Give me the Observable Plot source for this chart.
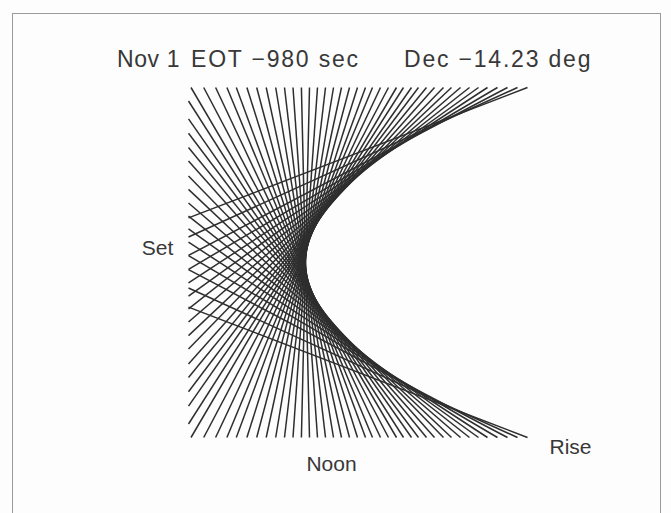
<!DOCTYPE html>
<html><head><meta charset="utf-8">
<script src="https://cdn.jsdelivr.net/npm/d3@7"></script>
<script src="https://cdn.jsdelivr.net/npm/@observablehq/plot@0.6"></script>
<style>
html,body{margin:0;padding:0;background:#fdfdfd;overflow:hidden;}
#page{position:relative;width:671px;height:513px;font-family:"Liberation Sans",Arial,sans-serif;color:#383838;}
#frame{position:absolute;left:12px;top:13px;width:647px;height:560px;border:1px solid #9a9a9a;border-bottom:none;}
#title span{position:absolute;top:45px;font-size:23px;letter-spacing:1.8px;white-space:pre;line-height:28px;}
#title span:first-child{letter-spacing:0.6px;}
#chart{position:absolute;left:0;top:80px;}
</style></head><body>
<div id="page"><div id="frame"></div><div id="title"></div><div id="chart"></div></div>
<script>
// Title pieces
const titleParts = ["Nov 1", "EOT \u2212980 sec", "Dec \u221214.23 deg"];
const titleLeft = [117, 191, 404];

// Lines tangent to the upper half of the curve: top-edge end (X, Y=175)
// and far end on the bottom edge or the left edge (X=-117).
const upperTopX = [4,12,20,28,36,44,52,60,67,75,83,91,98,106,113,121,129,138,146,155,164,173,182,192,202,212,222];
const upperFarX = [-4.1,-12.5,-21,-29.8,-39.3,-48.8,-58.6,-69.2,-78.6,-89.9,-101.8,-114.5,
  -117,-117,-117,-117,-117,-117,-117,-117,-117,-117,-117,-117,-117,-117,-117];
const upperFarY = [-175,-175,-175,-175,-175,-175,-175,-175,-175,-175,-175,-175,
  -161.5,-143.6,-129.2,-114.9,-101.4,-86.5,-73.1,-59.5,-46.3,-33.6,-20.4,-6.8,7.1,25.5,44.6];

// Lines tangent to the lower half of the curve: bottom-edge end (X, Y=-175)
// and far end on the top edge or the left edge.
const lowerBottomX = [4,12,20,28,36,44,52,60,67,75,83,91,98,106,113,121,129,138,146,155,164,173,182,192,202,212,222];
const lowerFarX = [-4.1,-12.5,-21,-29.8,-39.3,-48.8,-58.6,-69.2,-78.6,-89.9,-101.8,-114.5,
  -117,-117,-117,-117,-117,-117,-117,-117,-117,-117,-117,-117,-117,-117,-117];
const lowerFarY = [175,175,175,175,175,175,175,175,175,175,175,175,
  161.5,143.6,129.2,114.9,101.4,86.5,73.1,59.5,46.3,33.6,20.4,6.8,-7.1,-25.5,-44.6];

const topEdgeY = 175, bottomEdgeY = -175;

// Direction labels
const labelText = ["Set","Noon","Rise"];
const labelX = [-148,26,265];
const labelY = [14,-202,-185];

const lines = [];
upperTopX.forEach((x,i)=>lines.push({x1:upperFarX[i],y1:upperFarY[i],x2:x,y2:topEdgeY}));
lowerBottomX.forEach((x,i)=>lines.push({x1:lowerFarX[i],y1:lowerFarY[i],x2:x,y2:bottomEdgeY}));
const labels = labelText.map((t,i)=>({text:t,x:labelX[i],y:labelY[i]}));

const titleDiv = document.getElementById("title");
titleParts.forEach((t,i)=>{
  const s = document.createElement("span");
  s.textContent = t; s.style.left = titleLeft[i] + "px";
  titleDiv.appendChild(s);
});

const chart = Plot.plot({
  width:671, height:433, margin:0,
  style:{background:"none", overflow:"visible"},
  x:{domain:[-305,366], range:[0,671], axis:null},
  y:{domain:[-251,182], range:[433,0], axis:null},
  marks:[
    Plot.link(lines,{x1:"x1",y1:"y1",x2:"x2",y2:"y2",stroke:"#2e2e2e",strokeWidth:1.5}),
    Plot.text(labels,{x:"x",y:"y",text:"text",fontSize:21,fill:"#383838",
      fontFamily:"Liberation Sans, Arial, sans-serif",textAnchor:"middle",lineAnchor:"middle"})
  ]
});
document.getElementById("chart").appendChild(chart);
</script>
</body></html>
